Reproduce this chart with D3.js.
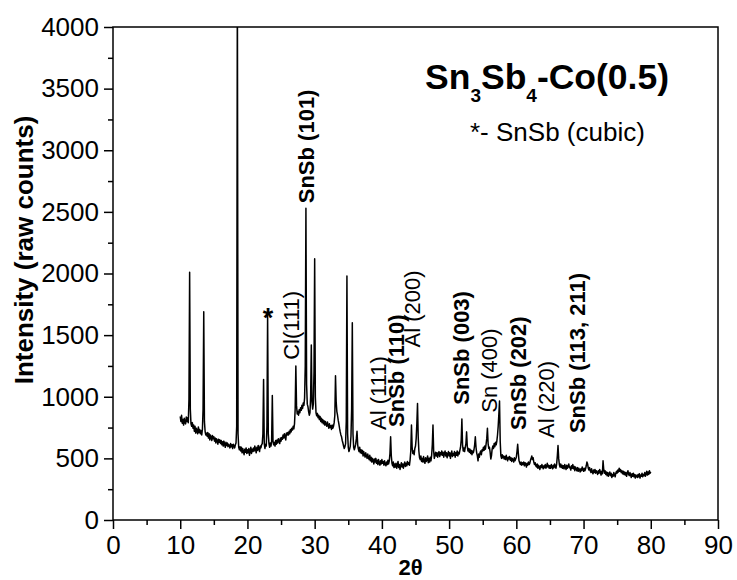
<!DOCTYPE html>
<html><head><meta charset="utf-8">
<script src="https://cdn.jsdelivr.net/npm/d3@7"></script>
<style>
body{margin:0;background:#fff}
svg{display:block}
text{font-family:"Liberation Sans",Arial,Helvetica,sans-serif;fill:#000}
</style>
</head><body>
<svg id="chart" width="737" height="580"></svg>
<script>
// ---- data ----
const scanStart = 10;      // degrees 2θ
const scanStep = 0.1;      // degrees per sample
const counts = [
  840, 800, 850, 785, 815, 770, 825, 790, 780, 835,   // 10
  800, 830, 790, 980, 2010, 900, 780, 760, 790, 745,  // 11
  770, 720, 760, 705, 745, 720, 700, 755, 710, 735,   // 12
  700, 725, 690, 735, 900, 1690, 800, 720, 690, 705,  // 13
  680, 710, 665, 700, 650, 690, 670, 645, 685, 660,   // 14
  675, 640, 665, 625, 660, 645, 615, 655, 630, 650,   // 15
  620, 645, 610, 635, 600, 640, 615, 590, 630, 605,   // 16
  625, 595, 615, 600, 585, 620, 595, 610, 580, 615,   // 17
  600, 585, 610, 625, 760, 4400, 700, 590, 570, 595,  // 18
  560, 590, 545, 580, 555, 530, 575, 550, 585, 540,   // 19
  570, 545, 580, 525, 560, 590, 540, 575, 555, 585,   // 20
  560, 600, 575, 545, 590, 565, 605, 580, 555, 600,   // 21
  585, 610, 620, 700, 1140, 620, 580, 615, 600, 760,  // 22
  1660, 700, 620, 590, 625, 600, 640, 1010, 640, 610, // 23
  630, 600, 645, 615, 650, 625, 660, 640, 620, 665,   // 24
  640, 670, 655, 690, 665, 700, 680, 650, 705, 690,   // 25
  710, 690, 720, 700, 735, 715, 745, 730, 760, 740,   // 26
  780, 900, 1250, 930, 860, 880, 850, 895, 870, 910,  // 27
  890, 930, 905, 950, 930, 990, 1250, 2530, 1100, 940,// 28
  920, 880, 850, 870, 1000, 1420, 960, 900, 940, 1200,// 29
  2120, 1000, 870, 845, 865, 830, 850, 815, 840, 800, // 30
  825, 790, 815, 780, 805, 770, 800, 775, 760, 795,   // 31
  770, 745, 780, 750, 765, 735, 770, 745, 760, 790,   // 32
  850, 1170, 960, 880, 850, 810, 780, 745, 715, 690,  // 33
  675, 645, 625, 600, 580, 595, 620, 800, 1980, 700,  // 34
  590, 555, 575, 600, 680, 900, 1600, 700, 590, 570,  // 35
  590, 615, 660, 720, 610, 575, 555, 590, 545, 570,   // 36
  540, 565, 520, 555, 530, 510, 545, 520, 500, 535,   // 37
  505, 490, 525, 480, 510, 470, 500, 485, 455, 495,   // 38
  470, 500, 460, 485, 450, 490, 465, 445, 480, 455,   // 39
  490, 460, 475, 445, 480, 455, 440, 470, 450, 485,   // 40
  455, 480, 540, 675, 520, 460, 440, 470, 425, 455,   // 41
  430, 460, 420, 445, 475, 425, 450, 410, 440, 465,   // 42
  430, 455, 420, 450, 470, 435, 460, 440, 475, 450,   // 43
  465, 445, 490, 560, 770, 590, 540, 560, 530, 580,   // 44
  600, 660, 780, 945, 680, 560, 505, 490, 520, 475,   // 45
  500, 470, 515, 480, 460, 505, 475, 490, 520, 465,   // 46
  500, 470, 510, 480, 525, 610, 770, 560, 500, 525,   // 47
  550, 520, 545, 510, 540, 555, 515, 545, 530, 560,   // 48
  525, 550, 510, 540, 560, 520, 545, 505, 535, 555,   // 49
  520, 545, 500, 535, 560, 515, 540, 525, 555, 510,   // 50
  545, 525, 560, 520, 550, 535, 565, 590, 650, 820,   // 51
  610, 560, 585, 555, 590, 620, 715, 600, 560, 580,   // 52
  550, 575, 540, 565, 530, 560, 545, 570, 610, 675,   // 53
  590, 545, 520, 480, 535, 510, 545, 560, 530, 570,   // 54
  560, 590, 565, 600, 575, 615, 660, 745, 620, 580,   // 55
  590, 550, 495, 520, 575, 600, 580, 620, 595, 630,   // 56
  610, 640, 690, 760, 860, 965, 640, 520, 500, 530,   // 57
  505, 520, 495, 515, 490, 525, 500, 480, 510, 495,   // 58
  515, 485, 505, 475, 500, 490, 470, 505, 480, 495,   // 59
  510, 555, 615, 540, 480, 465, 450, 470, 445, 465,   // 60
  450, 470, 440, 465, 455, 430, 460, 445, 470, 450,   // 61
  460, 485, 500, 520, 490, 505, 470, 450, 465, 440,   // 62
  430, 455, 420, 445, 430, 410, 440, 425, 450, 430,   // 63
  415, 440, 425, 450, 420, 435, 460, 430, 445, 420,   // 64
  440, 420, 450, 430, 415, 445, 425, 455, 435, 420,   // 65
  455, 520, 605, 500, 450, 430, 455, 425, 445, 420,   // 66
  440, 415, 450, 430, 410, 445, 420, 435, 455, 425,   // 67
  430, 405, 440, 420, 450, 415, 435, 400, 430, 415,   // 68
  400, 425, 395, 420, 405, 390, 415, 400, 430, 410,   // 69
  395, 420, 400, 415, 440, 470, 455, 420, 405, 425,   // 70
  400, 385, 415, 390, 375, 405, 385, 410, 380, 400,   // 71
  385, 370, 400, 380, 410, 390, 365, 395, 375, 480,   // 72
  410, 380, 400, 370, 390, 360, 385, 355, 375, 390,   // 73
  360, 380, 345, 370, 355, 385, 365, 350, 380, 395,   // 74
  380, 405, 390, 420, 395, 410, 385, 400, 375, 395,   // 75
  370, 390, 365, 385, 355, 380, 400, 370, 360, 385,   // 76
  365, 345, 375, 355, 380, 350, 370, 340, 365, 355,   // 77
  345, 370, 350, 375, 340, 365, 355, 380, 350, 370,   // 78
  360, 385, 355, 375, 395, 365, 390, 370, 400, 380,   // 79
  390                                                 // 80
];
const xTickValues = [0, 10, 20, 30, 40, 50, 60, 70, 80, 90];
const xMinorValues = [5, 15, 25, 35, 45, 55, 65, 75, 85];
const yTickValues = [0, 500, 1000, 1500, 2000, 2500, 3000, 3500, 4000];
const yMinorValues = [250, 750, 1250, 1750, 2250, 2750, 3250, 3750];
// peak labels: text, 2θ of label centre, intensity at label start, bold?
const labelText  = ["SnSb (101)", "Cl(111)", "Al (111)", "SnSb (110)", "Al (200)", "SnSb (003)", "Sn (400)", "SnSb (202)", "Al (220)", "SnSb (113, 211)"];
const labelTheta = [28.7, 26.5, 39.4, 42.1, 44.5, 51.8, 55.9, 60.3, 64.4, 69.0];
const labelCount = [2570, 1300, 730, 755, 1400, 935, 870, 730, 665, 705];
const labelBold  = [true, false, false, true, false, true, false, true, false, true];
const starTheta = 23.05, starCount = 1690;

// ---- layout ----
const svg = d3.select("#chart");
const L = 113, R = 718, T = 27, B = 520;
const x = d3.scaleLinear().domain([0, 90]).range([L, R]);
const y = d3.scaleLinear().domain([0, 4000]).range([B, T]);
const tickFont = 26;

// clip
svg.append("clipPath").attr("id", "plotclip")
  .append("rect").attr("x", L).attr("y", T).attr("width", R - L).attr("height", B - T);

// data line
const line = d3.line()
  .x((d, i) => x(scanStart + i * scanStep))
  .y(d => y(d));
svg.append("path").datum(counts)
  .attr("clip-path", "url(#plotclip)")
  .attr("fill", "none").attr("stroke", "#000").attr("stroke-width", 1.5)
  .attr("stroke-linejoin", "round")
  .attr("d", line);

// frame
svg.append("rect").attr("x", L).attr("y", T).attr("width", R - L).attr("height", B - T)
  .attr("fill", "none").attr("stroke", "#000").attr("stroke-width", 1.5);

// axes
function styleAxis(g) {
  g.select(".domain").remove();
  g.selectAll("line").attr("stroke", "#000").attr("stroke-width", 1.5);
  g.selectAll("text").attr("font-size", tickFont).attr("fill", "#000")
    .attr("font-family", '"Liberation Sans",Arial,sans-serif');
}
svg.append("g").attr("transform", `translate(0,${B})`)
  .call(d3.axisBottom(x).tickValues(xTickValues).tickSize(9).tickPadding(7).tickFormat(d3.format("d")))
  .call(styleAxis);
svg.append("g").attr("transform", `translate(0,${B})`)
  .call(d3.axisBottom(x).tickValues(xMinorValues).tickSize(5).tickFormat(""))
  .call(styleAxis);
svg.append("g").attr("transform", `translate(${L},0)`)
  .call(d3.axisLeft(y).tickValues(yTickValues).tickSize(9).tickPadding(5).tickFormat(d3.format("d")))
  .call(styleAxis);
svg.append("g").attr("transform", `translate(${L},0)`)
  .call(d3.axisLeft(y).tickValues(yMinorValues).tickSize(5).tickFormat(""))
  .call(styleAxis);

// axis titles
svg.append("text").attr("x", (L + R) / 2 - 5).attr("y", 575)
  .attr("text-anchor", "middle").attr("font-weight", "bold").attr("font-size", 22)
  .text("2θ");
svg.append("text")
  .attr("transform", `translate(33,250) rotate(-90)`)
  .attr("text-anchor", "middle").attr("font-weight", "bold").attr("font-size", 26)
  .text("Intensity (raw counts)");

// title
const title = svg.append("text").attr("x", 425).attr("y", 89)
  .attr("font-weight", "bold").attr("font-size", 35.5);
title.append("tspan").text("Sn");
title.append("tspan").attr("font-size", 19).attr("dy", 13).text("3");
title.append("tspan").attr("dy", -13).text("Sb");
title.append("tspan").attr("font-size", 19).attr("dy", 13).text("4");
title.append("tspan").attr("dy", -13).text("-Co(0.5)");

svg.append("text").attr("x", 470).attr("y", 141)
  .attr("font-size", 26).text("*- SnSb (cubic)");

// peak labels
labelText.forEach((t, i) => {
  svg.append("text")
    .attr("transform", `translate(${x(labelTheta[i])},${y(labelCount[i])}) rotate(-90)`)
    .attr("dy", "0.36em")
    .attr("font-size", 22)
    .attr("font-weight", labelBold[i] ? "bold" : "normal")
    .text(t);
});
svg.append("text")
  .attr("x", x(starTheta)).attr("y", y(starCount) + 15)
  .attr("text-anchor", "middle").attr("font-weight", "bold").attr("font-size", 27)
  .text("*");
</script>
</body></html>
